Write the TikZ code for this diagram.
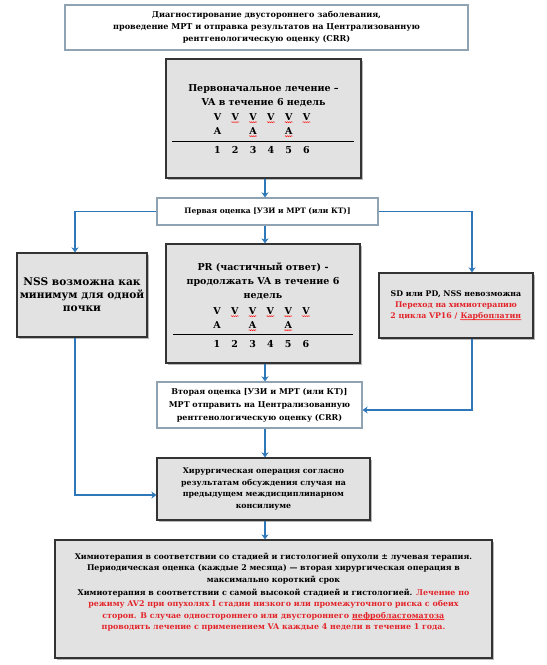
\documentclass[tikz,border=0pt]{standalone}
\usepackage{fontspec}
\setmainfont{DejaVu Serif}
\usetikzlibrary{arrows.meta,shadows,decorations.pathmorphing}

\definecolor{arrowblue}{HTML}{2E78BA}
\definecolor{boxgrey}{HTML}{E2E2E2}
\definecolor{framegrey}{HTML}{8FA3B3}
\definecolor{txtred}{HTML}{E3252B}
\newcommand{\rd}[1]{\textcolor{txtred}{#1}}
\newcommand{\wv}[1]{\tikz[baseline=(wv.base)]{\node[inner sep=0pt, minimum width=0pt, minimum height=0pt,
	draw=none, fill=none, align=left] (wv) {#1};
	\draw[wavy] ([yshift=-1.2pt]wv.base west) -- ([yshift=-1.2pt]wv.base east);}}

\begin{document}
\begin{tikzpicture}[x=1pt, y=-1pt,
	greybox/.style={draw=black!80, line width=1.2pt, fill=boxgrey, align=center, inner sep=0pt,
		drop shadow={shadow xshift=1.5pt, shadow yshift=-1.5pt, opacity=0.55}},
	whitebox/.style={draw=framegrey, line width=1.2pt, fill=white, align=center, inner sep=0pt,
		drop shadow={shadow xshift=1pt, shadow yshift=-1pt, opacity=0.15}},
	flow/.style={draw=arrowblue, line width=1.8pt, -{Stealth[length=5pt, width=7pt]}},
	wavy/.style={draw=red, line width=0.4pt, decorate, decoration={snake, amplitude=0.5pt, segment length=2pt}},
	smalltxt/.style={font=\bfseries\fontsize{8.1}{12}\selectfont},
	bigtxt/.style={font=\bfseries\fontsize{9.5}{14}\selectfont},
	cell/.style={inner sep=0pt, font=\bfseries\fontsize{9.5}{11}\selectfont}]
	\useasboundingbox (0, 0) rectangle (547, 665);
	\coordinate (spine) at (265, 0);
	\coordinate (lcol) at (75, 0);
	\coordinate (rcol) at (472, 0);

	% boxes
	\node[whitebox, smalltxt, minimum width=403pt, minimum height=45pt] (diag) at (266.5, 27.5)
		{Диагностирование двустороннего заболевания,\\
		 проведение МРТ и отправка результатов на Централизованную\\
		 рентгенологическую оценку (CRR)};
	\node[greybox, minimum width=195pt, minimum height=119pt] (init) at (263.5, 118.5) {};
	\node[bigtxt, align=center] (inittitle) at (263.5, 95.5) {Первоначальное лечение –\\VA в течение 6 недель};
	\node[whitebox, font=\bfseries\fontsize{7.5}{10}\selectfont, minimum width=221pt, minimum height=27pt] (eval1) at (267.5, 211.5)
		{Первая оценка [УЗИ и МРТ (или КТ)]};
	\node[greybox, font=\bfseries\fontsize{10.6}{13}\selectfont, minimum width=130pt, minimum height=84pt] (nss) at (82, 295)
		{NSS возможна как\\минимум для одной\\почки};
	\node[greybox, minimum width=194pt, minimum height=119pt] (pr) at (263, 303.5) {};
	\node[bigtxt, align=center] (prtitle) at (263, 281) {PR (частичный ответ) -\\продолжать VA в течение 6\\недель};
	\node[greybox, font=\bfseries\fontsize{7.8}{11}\selectfont, minimum width=154pt, minimum height=65pt] (sd) at (456, 305.5)
		{SD или PD, NSS невозможна\\\rd{Переход на химиотерапию}\\\rd{2 цикла VP16 / \wv{Карбоплатин}}};
	\node[whitebox, font=\bfseries\fontsize{8}{13}\selectfont, minimum width=205pt, minimum height=46pt] (eval2) at (259.5, 405)
		{Вторая оценка [УЗИ и МРТ (или КТ)]\\МРТ отправить на Централизованную\\рентгенологическую оценку (CRR)};
	\node[greybox, font=\bfseries\fontsize{7.85}{11.7}\selectfont, minimum width=213pt, minimum height=62pt] (surg) at (263.5, 489)
		{Хирургическая операция согласно\\результатам обсуждения случая на\\предыдущем междисциплинарном\\консилиуме};
	\node[greybox, font=\bfseries\fontsize{7.9}{11.3}\selectfont, minimum width=437pt, minimum height=118pt] (chemo) at (273.5, 599)
		{Химиотерапия в соответствии со стадией и гистологией опухоли ± лучевая терапия.\\
		 Периодическая оценка (каждые 2 месяца) — вторая хирургическая операция в\\
		 максимально короткий срок\\[2pt]
		 Химиотерапия в соответствии с самой высокой стадией и гистологией. \rd{Лечение по}\\
		 \rd{режиму AV2 при опухолях I стадии низкого или промежуточного риска с обеих}\\
		 \rd{сторон. В случае одностороннего или двустороннего \wv{нефробластоматоза}}\\
		 \rd{проводить лечение с применением VA каждые 4 недели в течение 1 года.}\\[4pt]};

	% schedule rows
	\foreach \i in {1,...,6} {
		\node[cell] (iv\i) at (217.5+17.8*\i-17.8, 117) {V};
		\node[cell] (in\i) at (217.5+17.8*\i-17.8, 150) {\i};
		\node[cell] (pv\i) at (217+17.8*\i-17.8, 311) {V};
		\node[cell] (pn\i) at (217+17.8*\i-17.8, 344) {\i};
	}
	\foreach \i in {1,3,5} {
		\node[cell] (ia\i) at (217.5+17.8*\i-17.8, 131) {A};
		\node[cell] (pa\i) at (217+17.8*\i-17.8, 325) {A};
	}
	\foreach \i in {2,...,6} {
		\draw[wavy] ([yshift=-1.5pt]iv\i.south west) -- ([yshift=-1.5pt]iv\i.south east);
		\draw[wavy] ([yshift=-1.5pt]pv\i.south west) -- ([yshift=-1.5pt]pv\i.south east);
	}
	\foreach \i in {3,5} {
		\draw[wavy] ([yshift=-1.5pt]ia\i.south west) -- ([yshift=-1.5pt]ia\i.south east);
		\draw[wavy] ([yshift=-1.5pt]pa\i.south west) -- ([yshift=-1.5pt]pa\i.south east);
	}
	\coordinate (irl) at (172, 141);
	\coordinate (irr) at (354, 141);
	\coordinate (prl) at (173, 334);
	\coordinate (prr) at (353, 334);
	\draw[line width=0.9pt] (irl) -- (irr);
	\draw[line width=0.9pt] (prl) -- (prr);

	% connectors
	\draw[flow] (init.south -| spine) -- (eval1.north -| spine);
	\draw[flow] (eval1.south -| spine) -- (pr.north -| spine);
	\draw[flow] (eval1.west) -| (nss.north -| lcol);
	\draw[flow] (eval1.east) -| (sd.north -| rcol);
	\draw[flow] (pr.south -| spine) -- (eval2.north -| spine);
	\draw[flow] (sd.south -| rcol) |- ([yshift=-5pt]eval2.east);
	\draw[flow] (nss.south -| lcol) |- ([yshift=-6pt]surg.west);
	\draw[flow] (eval2.south -| spine) -- (surg.north -| spine);
	\draw[flow] (surg.south -| spine) -- (chemo.north -| spine);
\end{tikzpicture}
\end{document}
